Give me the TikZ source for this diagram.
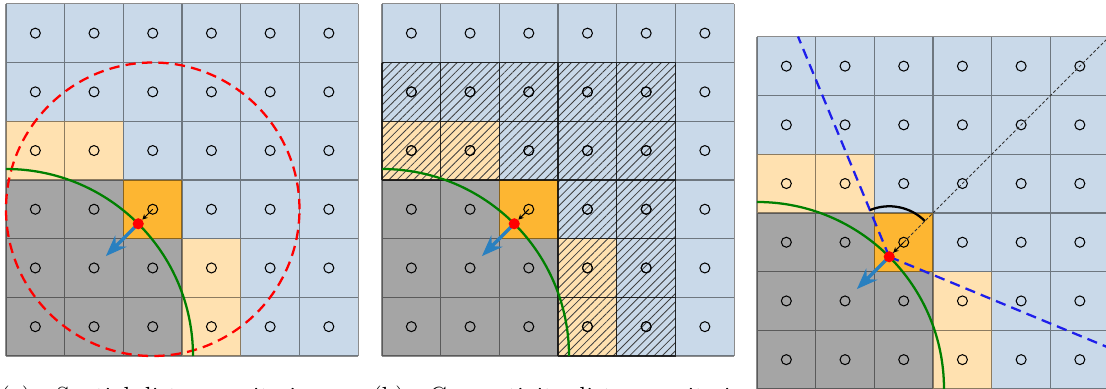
\documentclass[tikz,border=0pt]{standalone}
\usetikzlibrary{arrows.meta,calc,patterns.meta}
\definecolor{cellblue}{RGB}{201,217,233}
\definecolor{cellsand}{RGB}{255,225,176}
\definecolor{cellorange}{RGB}{253,182,50}
\definecolor{cellgray}{RGB}{165,165,165}
\definecolor{normalblue}{RGB}{41,128,192}
\definecolor{arcgreen}{RGB}{0,128,0}
\definecolor{coneblue}{RGB}{30,30,235}

\begin{document}
\begin{tikzpicture}[>=Stealth,
    gridline/.style={black, opacity=0.45, line width=0.6pt},
    sample/.style={black, line width=0.5pt},
    frontarc/.style={arcgreen, line width=1.1pt},
    normalarrow/.style={->, normalblue, line width=1.6pt},
    offsetarrow/.style={-{Stealth[length=2.5pt,width=2.5pt]}, black, line width=0.5pt, shorten >=0.1cm},
    conedash/.style={coneblue, line width=1.1pt, dash pattern=on 5pt off 3pt},
    caption/.style={font=\fontsize{12}{14}\selectfont, anchor=base west, inner sep=0pt}]

    \useasboundingbox (0,0) rectangle (18.842,6.627);
    \clip (0,0) rectangle (18.842,6.627);

    % Captions (cut by the page edge)
    \node[caption] (capa) at (0,-0.27) {(a)\quad Spatial distance criterion};
    \node[caption] (capb) at (6.337,-0.27) {(b)\quad Connectivity distance criterion};

    % Common cell grid of the three panels
    \foreach \px/\py in {0.102/0.562, 6.508/0.562, 12.896/0} {
        \begin{scope}[shift={(\px,\py)}]
            \fill[cellblue] (0,0) rectangle (6,6);
            \foreach \x/\y in {0/2,1/2,0/1,1/1,2/1,0/0,1/0,2/0}
                \fill[cellgray] (\x,\y) rectangle ++(1,1);
            \foreach \x/\y in {0/3,1/3,3/1,3/0}
                \fill[cellsand] (\x,\y) rectangle ++(1,1);
            \fill[cellorange] (2,2) rectangle (3,3);
            \draw[gridline] (0,0) grid (6,6);
            \foreach \x in {0,...,5}
                \foreach \y in {0,...,5}
                    \draw[sample] (\x+0.5,\y+0.5) circle (0.085);
        \end{scope}
    }

    % Panel (a): spatial neighbourhood
    \begin{scope}[shift={(0.102,0.562)}]
        \coordinate (centerA) at (2.5,2.5);
        \coordinate (dotA) at (45:3.186);
        \coordinate (tipA) at ($(dotA)+(225:0.78)$);
        \draw[red, line width=1.1pt, dash pattern=on 5pt off 3pt] (centerA) circle (2.5);
        \draw[frontarc] (3.186,0) arc[start angle=0, end angle=90, radius=3.186];
        \draw[offsetarrow] (centerA) -- (dotA);
        \draw[normalarrow] (dotA) -- (tipA);
        \fill[red] (dotA) circle (0.095);
    \end{scope}

    % Panel (b): connectivity neighbourhood
    \begin{scope}[shift={(6.508,0.562)}]
        \fill[pattern={Lines[angle=45,distance=2.8pt,line width=0.4pt]}, pattern color=black!75]
            (0,3) -- (0,5) -- (5,5) -- (5,0) -- (3,0) -- (3,3) -- cycle;
        \draw[black, opacity=0.7, line width=0.6pt] (0,3) grid (5,5) (3,0) grid (5,3);
        \foreach \x/\y in {0/3,1/3,2/3,3/3,4/3,0/4,1/4,2/4,3/4,4/4,3/0,4/0,3/1,4/1,3/2,4/2}
            \draw[sample] (\x+0.5,\y+0.5) circle (0.085);
        \coordinate (centerB) at (2.5,2.5);
        \coordinate (dotB) at (45:3.186);
        \coordinate (tipB) at ($(dotB)+(225:0.78)$);
        \draw[frontarc] (3.186,0) arc[start angle=0, end angle=90, radius=3.186];
        \draw[offsetarrow] (centerB) -- (dotB);
        \draw[normalarrow] (dotB) -- (tipB);
        \fill[red] (dotB) circle (0.095);
    \end{scope}

    % Panel (c): angular cone
    \begin{scope}[shift={(12.896,0)}]
        \coordinate (centerC) at (2.5,2.5);
        \coordinate (dotC) at (45:3.186);
        \coordinate (tipC) at ($(dotC)+(225:0.78)$);
        \coordinate (farC) at (6,6);
        \coordinate (coneL) at ($(dotC)+(112.5:4.06)$);
        \coordinate (coneR) at ($(dotC)+(-22.5:4.06)$);
        \draw[frontarc] (3.186,0) arc[start angle=0, end angle=90, radius=3.186];
        \draw[black!80, line width=0.45pt, dash pattern=on 1.5pt off 1pt] (dotC) -- (farC);
        \draw[conedash] (dotC) -- (coneL);
        \draw[conedash] (dotC) -- (coneR);
        \draw[black, line width=1.1pt] ($(dotC)+(45:0.86)$) arc[start angle=45, end angle=112.5, radius=0.86];
        \draw[offsetarrow] (centerC) -- (dotC);
        \draw[normalarrow] (dotC) -- (tipC);
        \fill[red] (dotC) circle (0.095);
    \end{scope}

\end{tikzpicture}
\end{document}
